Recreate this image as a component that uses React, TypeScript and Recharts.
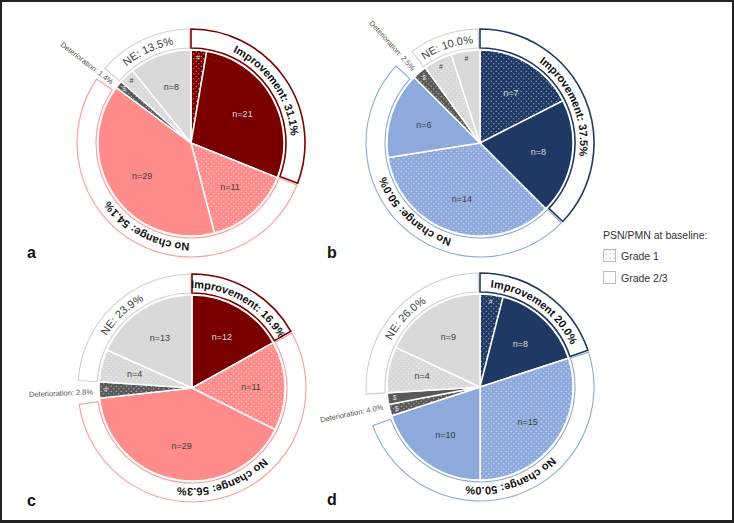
import React from "react"
import { PieChart, Pie, Cell } from "recharts"

const RADIAN = Math.PI / 180

// slices run clockwise from 12 o'clock; grade 1 = dotted, grade 2 = Grade 2/3 (solid)
const aValues = [2, 21, 11, 29, 1, 2, 8]
const aGrades = [1, 2, 1, 2, 1, 1, 2]
const aGroups = ["imp", "imp", "nc", "nc", "det", "ne", "ne"]
const aMarks = ["#", "", "", "", "$", "#", ""]

const bValues = [7, 8, 14, 6, 1, 2, 2]
const bGrades = [1, 2, 1, 2, 1, 1, 2]
const bGroups = ["imp", "imp", "nc", "nc", "det", "ne", "ne"]
const bMarks = ["", "", "", "", "$", "#", "#"]

const cValues = [12, 11, 29, 2, 4, 13]
const cGrades = [2, 1, 2, 1, 1, 2]
const cGroups = ["imp", "nc", "nc", "det", "ne", "ne"]
const cMarks = ["", "", "", "#", "", ""]

const dValues = [2, 8, 15, 10, 1, 1, 4, 9]
const dGrades = [1, 2, 1, 2, 1, 2, 1, 2]
const dGroups = ["imp", "imp", "nc", "nc", "det", "det", "ne", "ne"]
const dMarks = ["#", "", "", "", "$", "$", "", ""]

const groupKeys = ["imp", "nc", "det", "ne"]
const groupTitles = ["Improvement:", "No change:", "Deterioration:", "NE:"]
const dGroupTitles = ["Improvement", "No change:", "Deterioration:", "NE:"]

const legendTitle = "PSN/PMN at baseline:"
const legendItems = ["Grade 1", "Grade 2/3"]

const palettes: any = {
  red: { imp: "#7a0000", nc: "#ff8b8b", det: "#595959", ne: "#d9d9d9" },
  blue: { imp: "#1f3864", nc: "#8eaadc", det: "#595959", ne: "#d9d9d9" },
}
const ringColors: any = {
  red: { imp: "#7a0000", nc: "#ff9a9a", ne: "#d0d0d0" },
  blue: { imp: "#1f3864", nc: "#8eaadc", ne: "#d0d0d0" },
}

const panels = [
  { id: "a", cx: 191, cy: 143, palette: "red", values: aValues, grades: aGrades, groups: aGroups, marks: aMarks, titles: groupTitles },
  { id: "b", cx: 480, cy: 143, palette: "blue", values: bValues, grades: bGrades, groups: bGroups, marks: bMarks, titles: groupTitles },
  { id: "c", cx: 192, cy: 388, palette: "red", values: cValues, grades: cGrades, groups: cGroups, marks: cMarks, titles: groupTitles },
  { id: "d", cx: 480, cy: 387, palette: "blue", values: dValues, grades: dGrades, groups: dGroups, marks: dMarks, titles: dGroupTitles },
]

const R = 93

function sliceLabel(lp: any, p: any) {
  const { cx, cy, midAngle, index, value } = lp
  const mark = p.marks[index]
  const r = mark ? 86 : 59
  const x = cx + r * Math.cos(-midAngle * RADIAN)
  const y = cy + r * Math.sin(-midAngle * RADIAN)
  const g = p.groups[index]
  const dark = g === "imp" || g === "det"
  return (
    <text x={x} y={y} fill={dark ? "#dcdcdc" : "#404040"} fontSize={mark ? 7 : 9} textAnchor="middle" dominantBaseline="central">
      {mark || `n=${value}`}
    </text>
  )
}

function ringLabel(lp: any, p: any) {
  const { cx, cy, midAngle, index, percent } = lp
  const key = groupKeys[index]
  const text = `${p.titles[index]} ${(percent * 100).toFixed(1)}%`
  if (key === "det") {
    const r = 99
    const x = cx + r * Math.cos(midAngle * RADIAN)
    const y = cy - r * Math.sin(midAngle * RADIAN)
    const rot = Math.atan2(Math.sin(midAngle * RADIAN), -Math.cos(midAngle * RADIAN)) / RADIAN
    return (
      <text x={x} y={y} transform={`rotate(${rot} ${x} ${y})`} textAnchor="end" dominantBaseline="central" fontSize={7.5} fill="#555">
        {text}
      </text>
    )
  }
  const r = 100
  const a0 = (midAngle + 100) * RADIAN
  const a1 = (midAngle - 100) * RADIAN
  const d = `M ${cx + r * Math.cos(a0)} ${cy - r * Math.sin(a0)} A ${r} ${r} 0 1 1 ${cx + r * Math.cos(a1)} ${cy - r * Math.sin(a1)}`
  const id = `arc-${p.id}-${index}`
  return (
    <g>
      <path id={id} d={d} fill="none" stroke="none" />
      <text fontSize={11} fontWeight={key === "ne" ? 400 : 700} fill={key === "ne" ? "#404040" : "#111"}>
        <textPath href={`#${id}`} startOffset="50%" textAnchor="middle">
          {text}
        </textPath>
      </text>
    </g>
  )
}

function panelPies(p: any) {
  const slices = p.values.map((v: number, i: number) => ({ name: `${p.groups[i]}-${i}`, value: v }))
  const totals = groupKeys.map((g, gi) => ({
    name: p.titles[gi],
    value: p.values.reduce((s: number, v: number, i: number) => (p.groups[i] === g ? s + v : s), 0),
  }))
  return [
    <Pie
      key={p.id + "-ring"}
      data={totals}
      dataKey="value"
      cx={p.cx}
      cy={p.cy}
      innerRadius={95}
      outerRadius={114}
      startAngle={90}
      endAngle={-270}
      paddingAngle={1}
      isAnimationActive={false}
      labelLine={false}
      label={(lp: any) => ringLabel(lp, p)}
    >
      {totals.map((t, i) => {
        const k = groupKeys[i]
        return (
          <Cell
            key={i}
            fill={k === "det" ? "none" : "#fff"}
            stroke={k === "det" ? "none" : ringColors[p.palette][k]}
            strokeWidth={k === "imp" ? 1.6 : 1.1}
          />
        )
      })}
    </Pie>,
    <Pie
      key={p.id + "-slices"}
      data={slices}
      dataKey="value"
      cx={p.cx}
      cy={p.cy}
      outerRadius={R}
      startAngle={90}
      endAngle={-270}
      stroke="#fff"
      strokeWidth={1.5}
      isAnimationActive={false}
      labelLine={false}
      label={(lp: any) => sliceLabel(lp, p)}
    >
      {slices.map((s: any, i: number) => {
        const g = p.groups[i]
        return <Cell key={i} fill={p.grades[i] === 1 ? `url(#dots-${p.palette}-${g})` : palettes[p.palette][g]} />
      })}
    </Pie>,
  ]
}

export default function App() {
  return (
    <div style={{ position: "absolute", left: 0, top: 0, width: 734, height: 523, background: "#fff", fontFamily: "'Liberation Sans', Arial, sans-serif" }}>
      <svg width={0} height={0} style={{ position: "absolute" }}>
        <defs>
          {Object.keys(palettes).flatMap((pal) =>
            Object.keys(palettes[pal]).map((g) => (
              <pattern key={pal + g} id={`dots-${pal}-${g}`} width={5} height={5} patternUnits="userSpaceOnUse">
                <rect width={5} height={5} fill={palettes[pal][g]} />
                <circle cx={1.25} cy={1.25} r={0.55} fill="#fff" opacity={0.85} />
                <circle cx={3.75} cy={3.75} r={0.55} fill="#fff" opacity={0.85} />
              </pattern>
            ))
          )}
          <pattern id="legend-dots" width={4} height={4} patternUnits="userSpaceOnUse">
            <rect width={4} height={4} fill="#fff" />
            <circle cx={2} cy={2} r={0.5} fill="#777" />
          </pattern>
        </defs>
      </svg>
      <div style={{ position: "absolute", left: 0, top: 0 }}>
        <PieChart width={734} height={523} margin={{ top: 0, right: 0, bottom: 0, left: 0 }}>
          {panels.flatMap((p) => panelPies(p))}
        </PieChart>
      </div>
      <svg width={734} height={523} style={{ position: "absolute", left: 0, top: 0, pointerEvents: "none" }}>
        <text x={27} y={258} fontSize={16} fontWeight={700} fill="#111">a</text>
        <text x={327} y={258} fontSize={16} fontWeight={700} fill="#111">b</text>
        <text x={27} y={506} fontSize={16} fontWeight={700} fill="#111">c</text>
        <text x={327} y={505} fontSize={16} fontWeight={700} fill="#111">d</text>
        <text x={603} y={239} fontSize={10.5} fill="#333">{legendTitle}</text>
        <rect x={603.5} y={249.5} width={12} height={12} fill="url(#legend-dots)" stroke="#bdbdbd" />
        <text x={621} y={260} fontSize={10.5} fill="#333">{legendItems[0]}</text>
        <rect x={603.5} y={271.5} width={12} height={12} fill="#fff" stroke="#bdbdbd" />
        <text x={621} y={282} fontSize={10.5} fill="#333">{legendItems[1]}</text>
      </svg>
      <div style={{ position: "absolute", left: 0, top: 0, width: 734, height: 523, boxSizing: "border-box", border: "2px solid #222", borderBottomWidth: 3, pointerEvents: "none" }} />
    </div>
  )
}
